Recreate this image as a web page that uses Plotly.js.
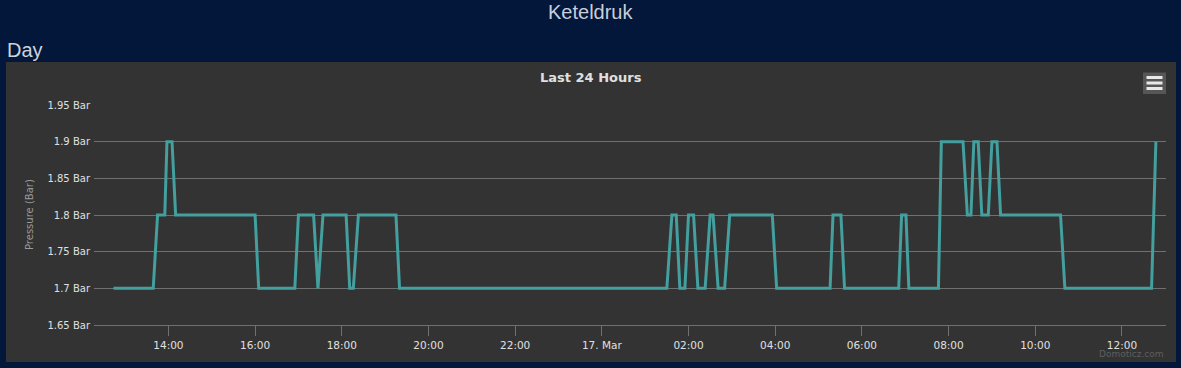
<!DOCTYPE html>
<html>
<head>
<meta charset="utf-8">
<script src="https://cdn.plot.ly/plotly-3.0.1.min.js"></script>
<style>
html,body{margin:0;padding:0;background:#02173a;}
#chart{width:1181px;height:368px;}
</style>
</head>
<body>
<div id="chart"></div>
<script>
// ---- Data ----
const times = [
  "2024-03-16 12:44","2024-03-16 13:39","2024-03-16 13:45","2024-03-16 13:55","2024-03-16 13:58",
  "2024-03-16 14:05","2024-03-16 14:10","2024-03-16 16:00","2024-03-16 16:05","2024-03-16 16:55",
  "2024-03-16 17:00","2024-03-16 17:21","2024-03-16 17:27","2024-03-16 17:34","2024-03-16 18:06",
  "2024-03-16 18:11","2024-03-16 18:16","2024-03-16 18:23","2024-03-16 19:15","2024-03-16 19:20",
  "2024-03-17 01:30","2024-03-17 01:37","2024-03-17 01:43","2024-03-17 01:48","2024-03-17 01:55",
  "2024-03-17 02:00","2024-03-17 02:07","2024-03-17 02:13","2024-03-17 02:23","2024-03-17 02:30",
  "2024-03-17 02:34","2024-03-17 02:41","2024-03-17 02:50","2024-03-17 02:57","2024-03-17 03:56",
  "2024-03-17 04:02","2024-03-17 05:16","2024-03-17 05:20","2024-03-17 05:31","2024-03-17 05:36",
  "2024-03-17 06:51","2024-03-17 06:55","2024-03-17 07:01","2024-03-17 07:05","2024-03-17 07:46",
  "2024-03-17 07:50","2024-03-17 08:20","2024-03-17 08:26","2024-03-17 08:31","2024-03-17 08:35",
  "2024-03-17 08:41","2024-03-17 08:46","2024-03-17 08:55","2024-03-17 09:00","2024-03-17 09:07",
  "2024-03-17 09:12","2024-03-17 10:35","2024-03-17 10:41","2024-03-17 12:41","2024-03-17 12:47"
];
const pressure = [
  1.7,1.7,1.8,1.8,1.9,
  1.9,1.8,1.8,1.7,1.7,
  1.8,1.8,1.7,1.8,1.8,
  1.7,1.7,1.8,1.8,1.7,
  1.7,1.8,1.8,1.7,1.7,
  1.8,1.8,1.7,1.7,1.8,
  1.8,1.7,1.7,1.8,1.8,
  1.7,1.7,1.8,1.8,1.7,
  1.7,1.8,1.8,1.7,1.7,
  1.9,1.9,1.8,1.8,1.9,
  1.9,1.8,1.8,1.9,1.9,
  1.8,1.8,1.7,1.7,1.9
];
const xTickVals = ["2024-03-16 14:00","2024-03-16 16:00","2024-03-16 18:00","2024-03-16 20:00","2024-03-16 22:00",
  "2024-03-17 00:00","2024-03-17 02:00","2024-03-17 04:00","2024-03-17 06:00","2024-03-17 08:00","2024-03-17 10:00","2024-03-17 12:00"];
const xTickText = ["14:00","16:00","18:00","20:00","22:00","17. Mar","02:00","04:00","06:00","08:00","10:00","12:00"];
const yTickVals = [1.65,1.7,1.75,1.8,1.85,1.9,1.95];
const yTickText = ["1.65 Bar","1.7 Bar","1.75 Bar","1.8 Bar","1.85 Bar","1.9 Bar","1.95 Bar"];
const xRange = ["2024-03-16 12:17","2024-03-17 13:01"];
const yRange = [1.65,1.95];

// ---- Layout helpers (pixel -> paper) ----
const W = 1181, H = 368;
const M = {l:94, r:15, t:105, b:43};
const PW = W - M.l - M.r, PH = H - M.t - M.b;
const xp = px => (px - M.l) / PW;
const yp = py => (H - M.b - py) / PH;

const trace = {
  x: times, y: pressure, type: 'scatter', mode: 'lines',
  line: {color: '#449f9f', width: 3},
  hoverinfo: 'x+y'
};

const shapes = [
  {type:'rect', xref:'paper', yref:'paper', layer:'below',
   x0:xp(6), x1:xp(1176), y0:yp(362), y1:yp(62), fillcolor:'#333333', line:{width:0}},
  {type:'rect', xref:'paper', yref:'paper',
   x0:xp(1143), x1:xp(1166), y0:yp(94), y1:yp(72.5), fillcolor:'#565656', line:{width:0}},
];
[77.5, 83, 88.5].forEach(y => shapes.push({type:'line', xref:'paper', yref:'paper',
  x0:xp(1146.5), x1:xp(1162.5), y0:yp(y), y1:yp(y), line:{color:'#e8e8e8', width:3}}));

const annotations = [
  {text:'Keteldruk', xref:'paper', yref:'paper', x:xp(590.5), y:yp(12), xanchor:'center', yanchor:'middle',
   showarrow:false, font:{family:'Liberation Sans, Arial, sans-serif', size:20, color:'#c9ced8'}},
  {text:'Day', xref:'paper', yref:'paper', x:xp(5), y:yp(50), xanchor:'left', yanchor:'middle',
   showarrow:false, font:{family:'Liberation Sans, Arial, sans-serif', size:20, color:'#cdd2dc'}},
  {text:'<b>Last 24 Hours</b>', xref:'paper', yref:'paper', x:xp(591), y:yp(78), xanchor:'center', yanchor:'middle',
   showarrow:false, font:{family:'DejaVu Sans, sans-serif', size:13, color:'#e0e0e0'}},
  {text:'Pressure (Bar)', xref:'paper', yref:'paper', x:xp(29), y:yp(215), xanchor:'center', yanchor:'middle',
   textangle:-90, showarrow:false, font:{family:'DejaVu Sans, sans-serif', size:10, color:'#9a9a9a'}},
  {text:'Domoticz.com', xref:'paper', yref:'paper', x:xp(1166), y:yp(354), xanchor:'right', yanchor:'middle',
   showarrow:false, font:{family:'DejaVu Sans, sans-serif', size:9, color:'#5e5e5e'}}
];

const layout = {
  width: W, height: H,
  margin: M,
  paper_bgcolor: '#02173a',
  plot_bgcolor: 'rgba(0,0,0,0)',
  showlegend: false,
  xaxis: {
    type:'date', range: xRange, tickmode:'array', tickvals: xTickVals, ticktext: xTickText,
    showgrid:false, zeroline:false, showline:true, linecolor:'#707070', linewidth:1,
    ticks:'outside', ticklen:10, tickcolor:'#707070', tickwidth:1,
    tickfont:{family:'DejaVu Sans, sans-serif', size:10.5, color:'#e0e0e0'}
  },
  yaxis: {
    range: yRange, tickmode:'array', tickvals: yTickVals, ticktext: yTickText,
    showgrid:true, gridcolor:'#707070', gridwidth:1, zeroline:false, showline:false,
    ticks:'', ticklabelstandoff:3,
    tickfont:{family:'DejaVu Sans, sans-serif', size:10, color:'#e0e0e0'}
  },
  shapes: shapes,
  annotations: annotations
};

Plotly.newPlot('chart', [trace], layout, {displayModeBar:false, staticPlot:true});
</script>
</body>
</html>
